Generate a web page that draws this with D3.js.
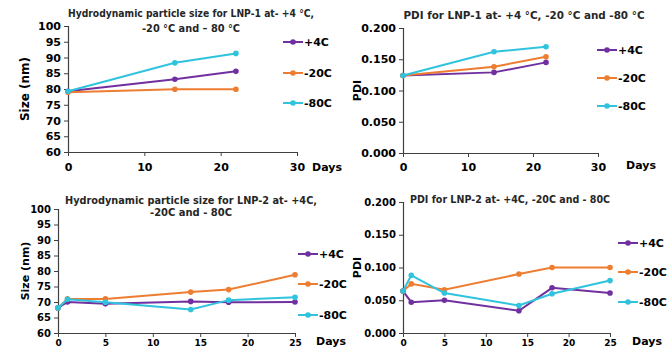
<!DOCTYPE html>
<html>
<head>
<meta charset="utf-8">
<script src="https://cdn.jsdelivr.net/npm/d3@7"></script>
<style>
  body { margin: 0; background: #fff; }
  svg { display: block; font-family: "DejaVu Sans", Verdana, sans-serif; font-weight: bold; }
</style>
</head>
<body>
<div id="chart"></div>
<script>
// Data
const seriesNames = ['+4C', '-20C', '-80C'];
const seriesColors = ['#7030a0', '#ed7d31', '#2fc3dd'];

const days1 = [0, 14, 22];
const size1P4 = [79.3, 83.1, 85.6];
const size1M20 = [79.0, 79.9, 79.9];
const size1M80 = [79.3, 88.3, 91.3];
const pdi1P4 = [0.124, 0.129, 0.145];
const pdi1M20 = [0.124, 0.138, 0.154];
const pdi1M80 = [0.124, 0.162, 0.170];

const days2 = [0, 1, 5, 14, 18, 25];
const size2P4 = [68.1, 70.0, 69.4, 70.2, 69.9, 70.0];
const size2M20 = [68.1, 71.0, 71.0, 73.2, 74.0, 78.8];
const size2M80 = [68.1, 70.9, 69.9, 67.6, 70.6, 71.5];
const pdi2P4 = [0.064, 0.047, 0.050, 0.034, 0.069, 0.061];
const pdi2M20 = [0.064, 0.075, 0.066, 0.090, 0.100, 0.100];
const pdi2M80 = [0.064, 0.088, 0.061, 0.042, 0.060, 0.080];

const sizeTicks = [60, 65, 70, 75, 80, 85, 90, 95, 100];
const pdiTicks = [0, 0.05, 0.1, 0.15, 0.2];
const dayTicks1 = [0, 10, 20, 30];
const dayTicks2 = [0, 5, 10, 15, 20, 25];

const svg = d3.select('#chart').append('svg')
  .attr('width', 670).attr('height', 349);

const panels = [
  {
    title: ['Hydrodynamic particle size for LNP-1 at- +4 °C,', '-20 °C and – 80 °C'],
    titleX: 191, titleY: [17, 32], titleW: [246, 98],
    x0: 68, x1: 297, y0: 152, y1: 26,
    xDomain: [0, 30], xTicks: dayTicks1, xFont: 11, xLabelY: 171,
    yDomain: [60, 100], yTicks: sizeTicks, yFmt: d3.format('d'), yFont: 11,
    yLabel: 'Size (nm)', yLabelX: 25, yLabelFont: 12,
    days: days1, values: [size1P4, size1M20, size1M80],
    daysX: 312, daysY: 171,
    legX: 283, legY: [42, 73, 103]
  },
  {
    title: ['PDI for LNP-1 at- +4 °C, -20 °C and -80 °C'],
    titleX: 524, titleY: [19], titleW: [241],
    x0: 403, x1: 598, y0: 153, y1: 28,
    xDomain: [0, 30], xTicks: dayTicks1, xFont: 11, xLabelY: 171,
    yDomain: [0, 0.2], yTicks: pdiTicks, yFmt: d3.format('.3f'), yFont: 11,
    yLabel: 'PDI', yLabelX: 357, yLabelFont: 11,
    days: days1, values: [pdi1P4, pdi1M20, pdi1M80],
    daysX: 626, daysY: 169,
    legX: 597, legY: [50, 78, 106]
  },
  {
    title: ['Hydrodynamic particle size for LNP-2 at- +4C,', '-20C and - 80C'],
    titleX: 191, titleY: [204, 216], titleW: [252, 82],
    x0: 58, x1: 295, y0: 333, y1: 209,
    xDomain: [0, 25], xTicks: dayTicks2, xFont: 9, xLabelY: 346,
    yDomain: [60, 100], yTicks: sizeTicks, yFmt: d3.format('d'), yFont: 10,
    yLabel: 'Size (nm)', yLabelX: 25, yLabelFont: 11,
    days: days2, values: [size2P4, size2M20, size2M80],
    daysX: 316, daysY: 345,
    legX: 298, legY: [254, 284, 315]
  },
  {
    title: ['PDI for LNP-2 at- +4C, -20C and - 80C'],
    titleX: 510, titleY: [203], titleW: [200],
    x0: 403, x1: 610, y0: 333, y1: 202,
    xDomain: [0, 25], xTicks: dayTicks2, xFont: 9, xLabelY: 346,
    yDomain: [0, 0.2], yTicks: pdiTicks, yFmt: d3.format('.3f'), yFont: 10,
    yLabel: 'PDI', yLabelX: 357, yLabelFont: 11,
    days: days2, values: [pdi2P4, pdi2M20, pdi2M80],
    daysX: 632, daysY: 345,
    legX: 618, legY: [243, 272, 302]
  }
];

panels.forEach(p => {
  const g = svg.append('g');
  const x = d3.scaleLinear().domain(p.xDomain).range([p.x0, p.x1]);
  const y = d3.scaleLinear().domain(p.yDomain).range([p.y0, p.y1]);

  // Title
  p.title.forEach((t, i) => {
    g.append('text')
      .attr('x', p.titleX).attr('y', p.titleY[i])
      .attr('text-anchor', 'middle')
      .attr('textLength', p.titleW[i]).attr('lengthAdjust', 'spacingAndGlyphs')
      .style('font-size', '10px').style('fill', '#262626')
      .text(t);
  });

  // Y axis
  const yAxis = g.append('g')
    .attr('transform', `translate(${p.x0},0)`)
    .call(d3.axisLeft(y).tickValues(p.yTicks).tickFormat(p.yFmt).tickSize(4).tickPadding(3));
  yAxis.select('.domain').attr('stroke', '#404040').attr('stroke-width', 1.2);
  yAxis.selectAll('.tick line').attr('stroke', '#404040');
  yAxis.selectAll('text').style('font-size', p.yFont + 'px').style('font-weight', 'bold')
    .style('font-family', '"DejaVu Sans", sans-serif').attr('fill', '#000');

  // X axis
  const xAxis = g.append('g')
    .attr('transform', `translate(0,${p.y0})`)
    .call(d3.axisBottom(x).tickValues(p.xTicks).tickFormat(d3.format('d')).tickSize(4).tickSizeOuter(0));
  xAxis.select('.domain').attr('stroke', '#404040').attr('stroke-width', 1.2);
  xAxis.selectAll('.tick line').attr('stroke', '#404040');
  xAxis.selectAll('text').attr('y', null).attr('dy', null)
    .attr('transform', `translate(0,${p.xLabelY - p.y0})`)
    .style('font-size', p.xFont + 'px').style('font-weight', 'bold')
    .style('font-family', '"DejaVu Sans", sans-serif').attr('fill', '#000');

  // Axis labels
  g.append('text')
    .attr('transform', `translate(${p.yLabelX},${(p.y0 + p.y1) / 2}) rotate(-90)`)
    .attr('text-anchor', 'middle').attr('dy', '0.35em')
    .style('font-size', p.yLabelFont + 'px')
    .text(p.yLabel);
  g.append('text')
    .attr('x', p.daysX).attr('y', p.daysY)
    .style('font-size', '11px')
    .text('Days');

  // Series
  const line = d3.line().x(d => x(d[0])).y(d => y(d[1]));
  p.values.forEach((vals, si) => {
    const pts = p.days.map((d, i) => [d, vals[i]]);
    g.append('path').datum(pts)
      .attr('fill', 'none').attr('stroke', seriesColors[si]).attr('stroke-width', 2)
      .attr('d', line);
    g.selectAll(null).data(pts).enter().append('circle')
      .attr('cx', d => x(d[0])).attr('cy', d => y(d[1])).attr('r', 2.8)
      .attr('fill', seriesColors[si]);
  });

  // Legend
  seriesNames.forEach((name, si) => {
    const ly = p.legY[si];
    g.append('line')
      .attr('x1', p.legX).attr('x2', p.legX + 20).attr('y1', ly).attr('y2', ly)
      .attr('stroke', seriesColors[si]).attr('stroke-width', 2);
    g.append('circle').attr('cx', p.legX + 10).attr('cy', ly).attr('r', 2.8)
      .attr('fill', seriesColors[si]);
    g.append('text').attr('x', p.legX + 21).attr('y', ly).attr('dy', '0.35em')
      .style('font-size', '11px').text(name);
  });
});
</script>
</body>
</html>
